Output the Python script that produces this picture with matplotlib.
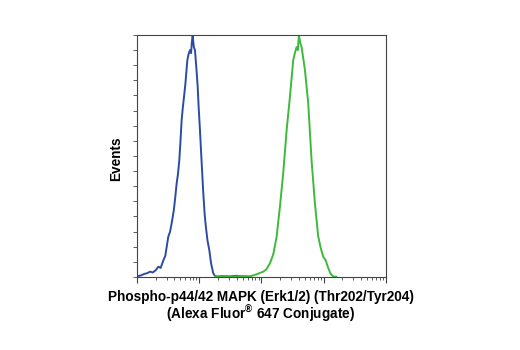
import matplotlib.pyplot as plt
from matplotlib.ticker import LogLocator, MultipleLocator, NullFormatter

# histogram outlines (x = fluorescence, y = events)
blue_x = [10, 11.5, 13, 14.5, 16.2, 18, 20, 22, 24, 26.5, 28.5, 30, 31.8, 34, 36.1,
          39, 41, 43.4, 45.5, 47.8, 50, 52.2, 54.5, 56.9, 60, 64.3, 67, 71, 74, 76,
          78.5, 80, 82, 85.4, 90, 94.4, 98, 102.8, 108, 116, 122, 128, 136, 145, 155,
          168, 180, 200, 240, 300, 400, 500, 650]
blue_y = [0.5, 1.0, 2.0, 2.5, 3.5, 3.0, 4.5, 6.8, 6.0, 11, 14, 20, 26.6, 30, 35.7,
          44, 52, 62, 68, 77, 90, 104, 112, 119, 128, 143, 147, 150, 148, 155,
          160, 156, 152, 150, 138, 126, 112, 97, 80, 56, 42, 33, 24, 18, 9,
          2.5, 0.5, 0.3, 0.6, 0.3, 0.8, 0.3, 0.2]

green_x = [180, 250, 350, 500, 653, 800, 1069, 1200, 1370, 1550, 1754, 1983, 2240,
           2540, 2870, 3245, 3450, 3675, 3850, 4000, 4200, 4424, 5000, 5650, 6400,
           7230, 8170, 9000, 9840, 10800, 11830, 13000, 14230, 16000]
green_y = [0.3, 0.5, 0.2, 0.6, 0.4, 1.5, 3.5, 5, 9, 15, 26.6, 46.5, 68.6,
           97, 119, 143.5, 148, 152, 150, 160, 155, 152, 137, 115, 77,
           49, 27, 19, 13.4, 11, 6, 2, 0.3, 0.2]

xlabel_1 = 'Phospho-p44/42 MAPK (Erk1/2) (Thr202/Tyr204)'
xlabel_2 = '(Alexa Fluor$^{\\circledR}$ 647 Conjugate)'
ylabel = 'Events'

plt.rcParams['font.family'] = ['Liberation Sans', 'DejaVu Sans']
plt.rcParams['mathtext.fontset'] = 'custom'
plt.rcParams['mathtext.rm'] = 'Liberation Sans:bold'
plt.rcParams['mathtext.bf'] = 'Liberation Sans:bold'

fig = plt.figure(figsize=(5.2, 3.5), dpi=100)
ax = fig.add_axes([0.2635, 0.2086, 0.4785, 0.6914])

ax.plot(blue_x, blue_y, color='#2D4BA6', linewidth=1.4)
ax.plot(green_x, green_y, color='#3DBA3A', linewidth=1.4)

ax.set_xscale('log')
ax.set_xlim(10, 1e5)
ax.set_ylim(0, 160)

ax.xaxis.set_major_locator(LogLocator(base=10, numticks=10))
ax.xaxis.set_minor_locator(LogLocator(base=10, subs=range(2, 10), numticks=20))
ax.xaxis.set_major_formatter(NullFormatter())
ax.xaxis.set_minor_formatter(NullFormatter())
ax.yaxis.set_major_locator(MultipleLocator(10))
ax.yaxis.set_major_formatter(NullFormatter())

ax.tick_params(axis='x', which='major', length=4, width=0.8, color='#444444')
ax.tick_params(axis='x', which='minor', length=2.5, width=0.6, color='#444444')
ax.tick_params(axis='y', which='major', length=3, width=0.6, color='#444444')
for s in ax.spines.values():
    s.set_color('#444444')
    s.set_linewidth(0.8)

fs = 9.8
fig.text(116.5 / 520, 1 - 159 / 350, ylabel, rotation=90, ha='center', va='center',
         fontsize=fs, fontweight='bold')
fig.text(261 / 520, 1 - 301 / 350, xlabel_1, ha='center', va='baseline',
         fontsize=fs, fontweight='bold')
fig.text(261 / 520, 1 - 319 / 350, xlabel_2, ha='center', va='baseline',
         fontsize=fs, fontweight='bold')

plt.savefig('out.png', dpi=100)
